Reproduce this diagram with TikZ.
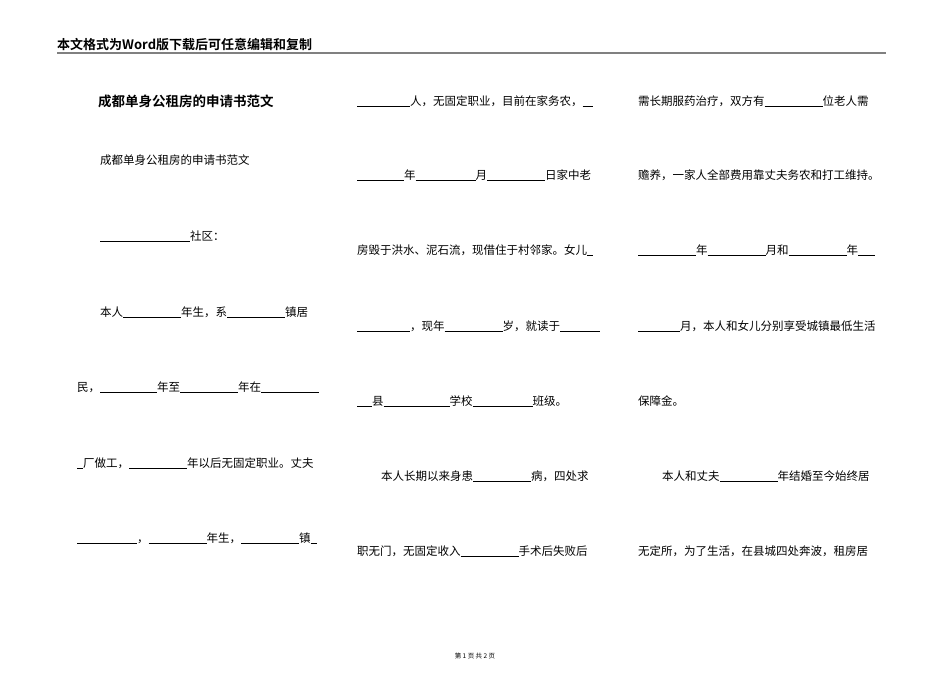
\documentclass[tikz,border=0pt]{standalone}
\usepackage{fontspec}
\newfontfamily\cjk{Noto Sans CJK SC}
\newfontfamily\cjkb{Noto Sans CJK SC Bold}
\newcommand{\bl}[1]{\rule[-1.5pt]{#1pt}{0.5pt}}
\tikzset{txt/.style={anchor=base west,inner sep=0pt,font=\cjk\fontsize{11.5}{13}\selectfont}}
\begin{document}
\begin{tikzpicture}[x=1pt,y=-1pt]
\useasboundingbox[fill=white] (0,0) rectangle (950,672);
\node[anchor=base west,inner sep=0pt,font=\cjkb\fontsize{13}{15}\selectfont] (hd) at (57,49) {本文格式为Word版下载后可任意编辑和复制};
\draw[gray,line width=1.8pt] (57,53) -- (886,53);
\node[anchor=base west,inner sep=0pt,font=\cjkb\fontsize{13.5}{15}\selectfont] (tt) at (98,106) {成都单身公租房的申请书范文};
% column 1
\node[txt] (a1) at (100,164) {成都单身公租房的申请书范文};
\node[txt] (a2) at (100,240) {\bl{90}社区：};
\node[txt] (a3) at (100,316) {本人\bl{58}年生，系\bl{58}镇居};
\node[txt] (a4) at (77,391) {民，\bl{57}年至\bl{58}年在\bl{58}};
\node[txt] (a5) at (77,467) {\bl{6}厂做工，\bl{58}年以后无固定职业。丈夫};
\node[txt] (a6) at (77,542) {\bl{60}，\bl{58}年生，\bl{58}镇\bl{6}};
% column 2
\node[txt] (b1) at (357,105) {\bl{53}人，无固定职业，目前在家务农，\bl{10}};
\node[txt] (b2) at (357,179) {\bl{47}年\bl{60}月\bl{58}日家中老};
\node[txt] (b3) at (357,254) {房毁于洪水、泥石流，现借住于村邻家。女儿\bl{6}};
\node[txt] (b4) at (357,330) {\bl{53}，现年\bl{58}岁，就读于\bl{40}};
\node[txt] (b5) at (357,405) {\bl{15}县\bl{66}学校\bl{60}班级。};
\node[txt] (b6) at (381,480) {本人长期以来身患\bl{58}病，四处求};
\node[txt] (b7) at (357,555) {职无门，无固定收入\bl{58}手术后失败后};
% column 3
\node[txt] (c1) at (638,105) {需长期服药治疗，双方有\bl{58}位老人需};
\node[txt] (c2) at (638,179) {赡养，一家人全部费用靠丈夫务农和打工维持。};
\node[txt] (c3) at (638,254) {\bl{58}年\bl{58}月和\bl{58}年\bl{17}};
\node[txt] (c4) at (638,330) {\bl{42}月，本人和女儿分别享受城镇最低生活};
\node[txt] (c5) at (638,405) {保障金。};
\node[txt] (c6) at (662,480) {本人和丈夫\bl{58}年结婚至今始终居};
\node[txt] (c7) at (638,555) {无定所，为了生活，在县城四处奔波，租房居};
\node[anchor=base,inner sep=0pt,font=\cjk\fontsize{6.5}{8}\selectfont] (ft) at (475,658) {第 1 页 共 2 页};
\end{tikzpicture}
\end{document}
